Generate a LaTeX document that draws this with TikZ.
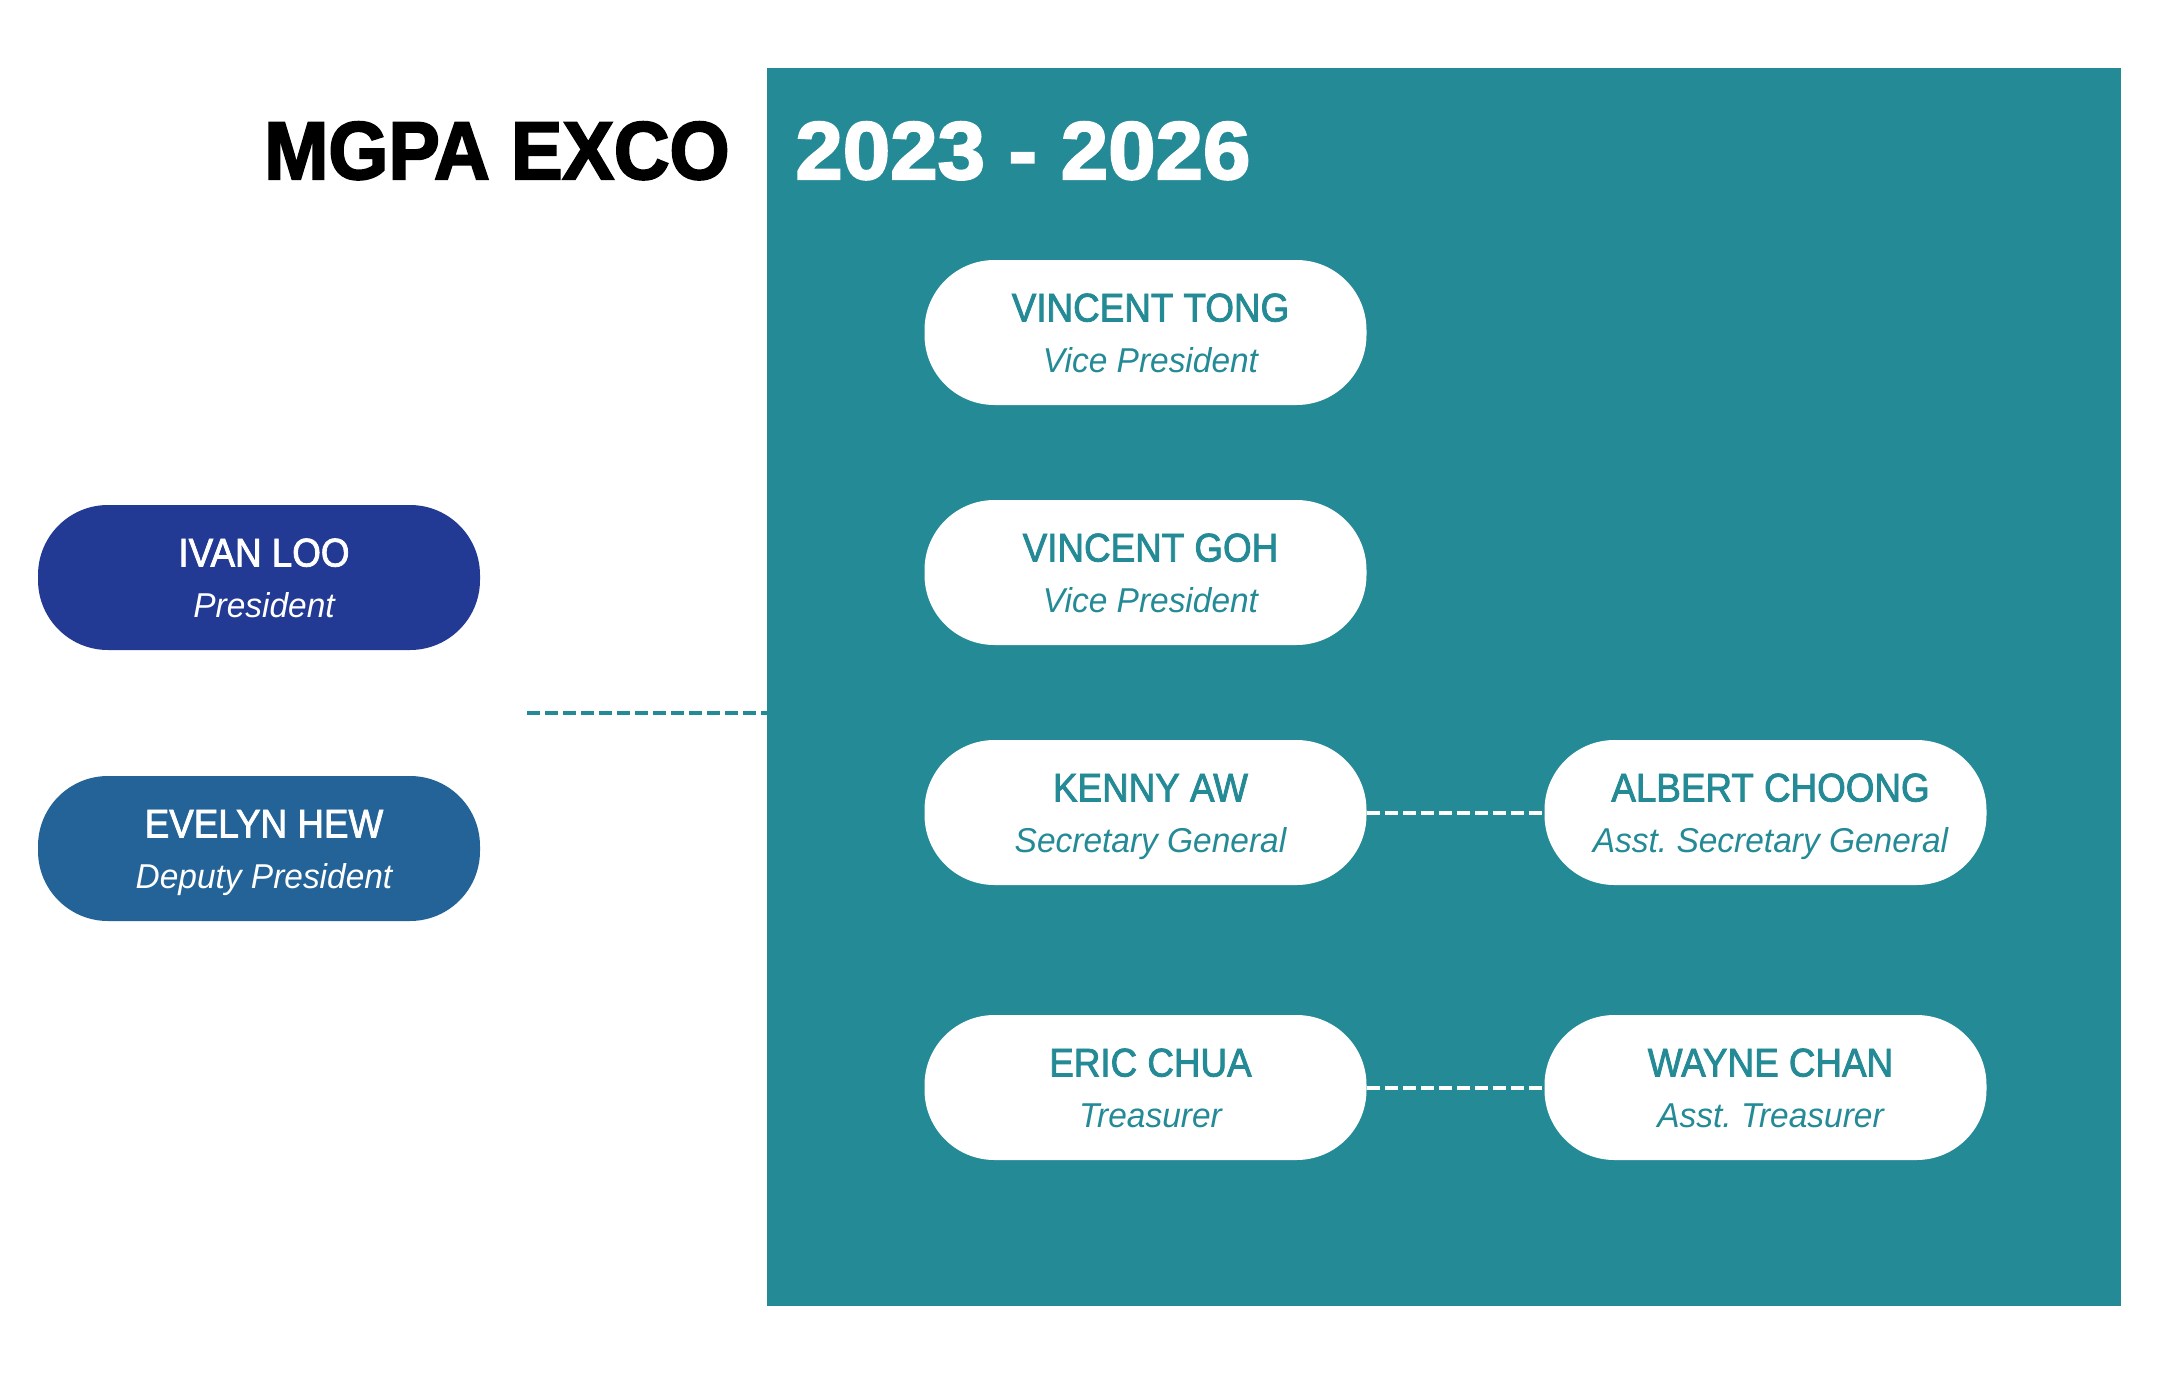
\documentclass[tikz,border=0pt]{standalone}
\usepackage{fontspec}
\usetikzlibrary{calc}
\setmainfont{Liberation Sans}
\frenchspacing
\newfontfamily\namefam[FakeBold=2,FakeStretch=0.92]{Liberation Sans}
\newfontfamily\rolefam[FakeStretch=0.97]{Liberation Sans}
\newfontfamily\titlefam[FakeStretch=0.94,FakeBold=2.5]{Liberation Sans}
\newfontfamily\yearfam[FakeStretch=1.04,FakeBold=2.5]{Liberation Sans}
\definecolor{tealc}{HTML}{238A96}
\definecolor{blueA}{HTML}{233A94}
\definecolor{blueB}{HTML}{246397}
\tikzset{
  pill/.style={rectangle, rounded corners=35pt, minimum width=221pt, minimum height=72.5pt, inner sep=0pt, draw=none},
  nametext/.style={inner sep=0pt, font=\namefam\fontsize{20pt}{24pt}\selectfont},
  roletext/.style={inner sep=0pt, font=\rolefam\itshape\fontsize{17.25pt}{20pt}\selectfont},
  titletext/.style={inner sep=0pt, font=\titlefam\bfseries\fontsize{41pt}{48pt}\selectfont},
  yeartext/.style={inner sep=0pt, font=\yearfam\bfseries\fontsize{41pt}{48pt}\selectfont},
  dashwhite/.style={draw=white, line width=2pt, dash pattern=on 6.5pt off 2.5pt},
  dashteal/.style={draw=tealc, line width=2pt, dash pattern=on 6.5pt off 2.5pt}
}
\newcommand{\mkpill}[7]{%
  \node[pill, fill=#4] (#1) at (#2,#3) {};
  \node[nametext, text=#5, anchor=base] (#1-name) at ($(#1.center)+(5,-11)$) {#6};
  \node[roletext, text=#5, anchor=base] (#1-role) at ($(#1.center)+(5,40)$) {#7};
}
\begin{document}
\begin{tikzpicture}[x=0.5pt,y=-0.5pt]
\useasboundingbox (0,0) rectangle (2160,1376);
\fill[white] (0,0) rectangle (2160,1376);
% panel
\node[fill=tealc, draw=none, inner sep=0pt, minimum width=677pt, minimum height=619pt, anchor=north west] (panel) at (767,68) {};
% titles
\node[titletext, text=black, anchor=base east] (title) at (730,179) {MGPA EXCO};
\node[yeartext, text=white, anchor=base west] (years) at (795,179) {2023 - 2026};
% left pills
\mkpill{ivan}{259}{577.5}{blueA}{white}{IVAN LOO}{President}
\mkpill{evelyn}{259}{848.5}{blueB}{white}{EVELYN HEW}{Deputy President}
% middle pills
\mkpill{vtong}{1145.5}{332.5}{white}{tealc}{VINCENT TONG}{Vice President}
\mkpill{vgoh}{1145.5}{572.5}{white}{tealc}{VINCENT GOH}{Vice President}
\mkpill{kenny}{1145.5}{812.5}{white}{tealc}{KENNY AW}{Secretary General}
\mkpill{eric}{1145.5}{1087.5}{white}{tealc}{ERIC CHUA}{Treasurer}
% right pills
\mkpill{albert}{1765.5}{812.5}{white}{tealc}{ALBERT CHOONG}{Asst. Secretary General}
\mkpill{wayne}{1765.5}{1087.5}{white}{tealc}{WAYNE CHAN}{Asst. Treasurer}
% connectors
\draw[dashwhite] (kenny.east) -- (albert.west);
\draw[dashwhite] (eric.east) -- (wayne.west);
\coordinate (dstart) at (527,713);
\draw[dashteal] (dstart) -- (dstart -| panel.west);
\end{tikzpicture}
\end{document}
